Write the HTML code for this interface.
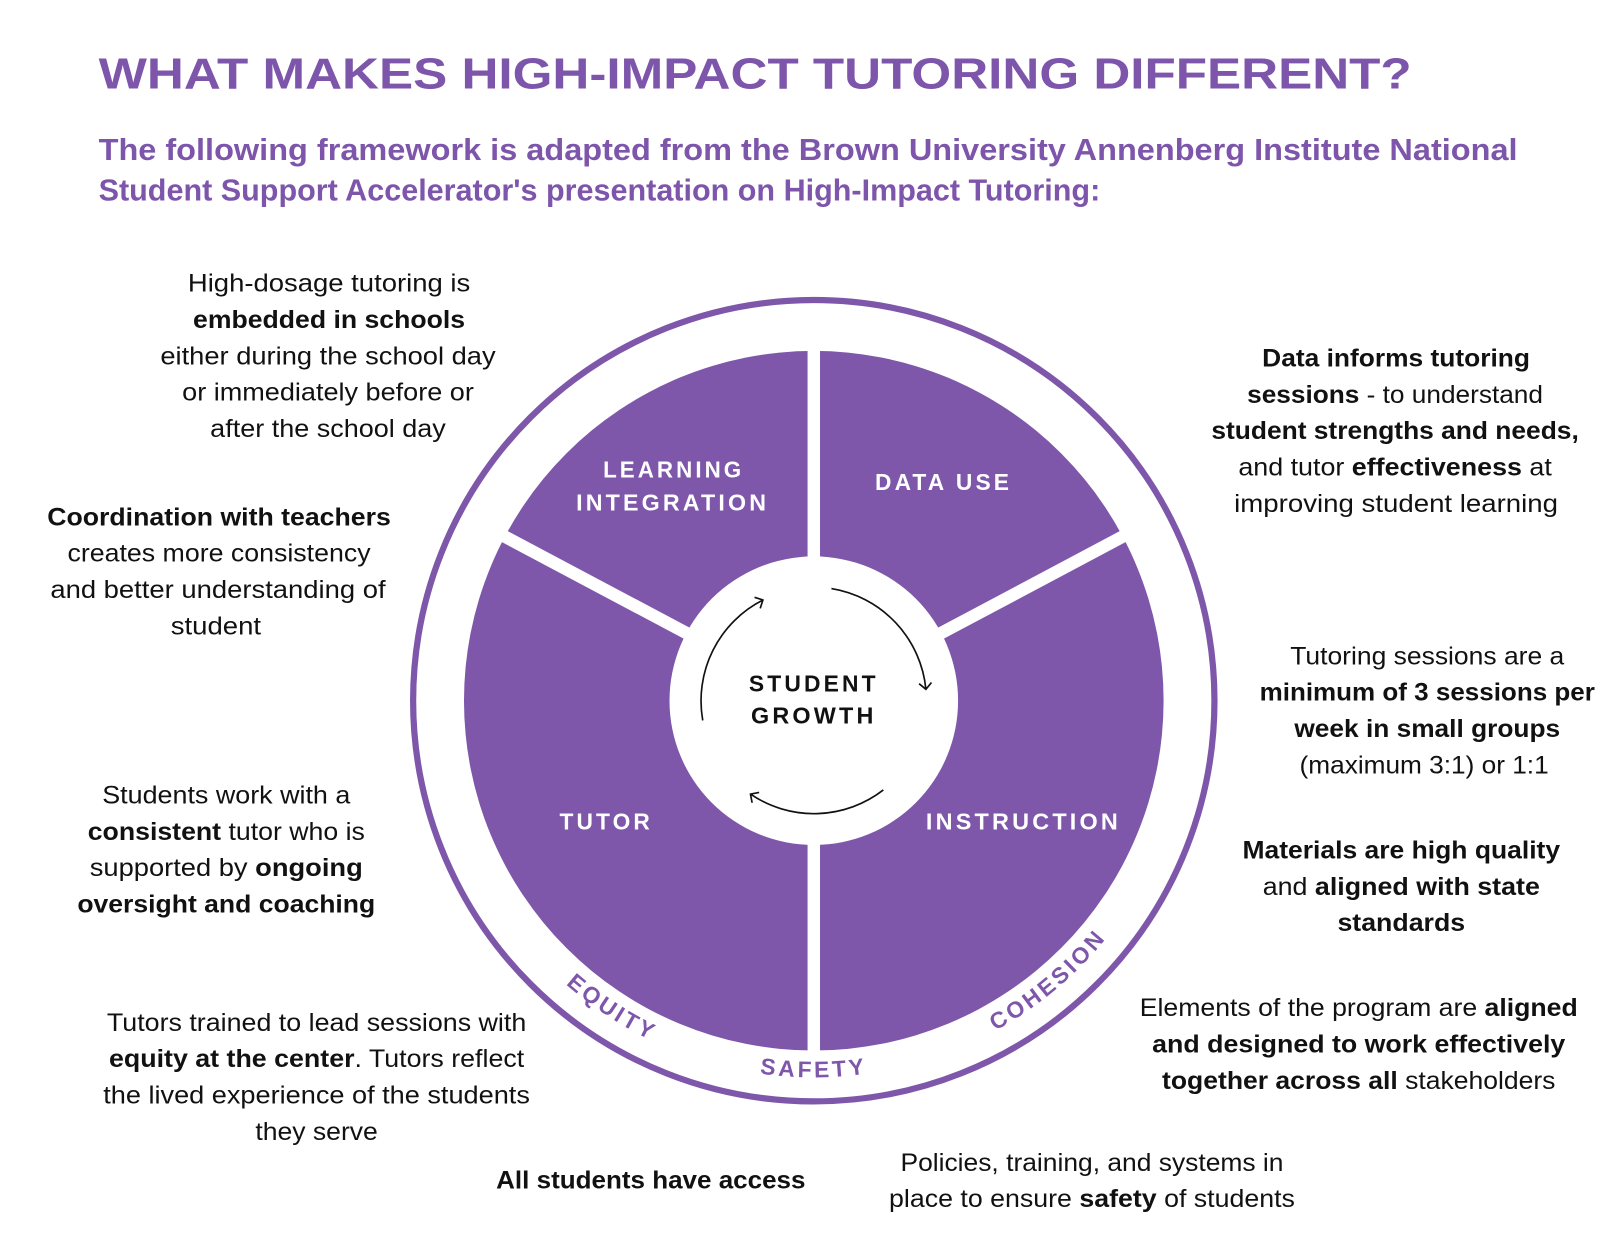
<!DOCTYPE html>
<html><head><meta charset="utf-8"><style>
html,body{margin:0;padding:0;background:#fff;}
svg{display:block;}
text{font-family:"Liberation Sans",sans-serif;}
.b{font-size:24.5px;fill:#111;text-anchor:middle;}
.bb{font-weight:700;}
.lab{font-size:22px;font-weight:700;fill:#fff;text-anchor:middle;letter-spacing:3px;}
.ring{font-size:22px;font-weight:700;fill:#7e57ab;letter-spacing:3px;}
</style></head><body>
<svg width="1620" height="1254" viewBox="0 0 1560.7 1208" xmlns="http://www.w3.org/2000/svg">
<defs>
<marker id="ah" markerWidth="14" markerHeight="14" refX="7" refY="7" orient="auto" markerUnits="userSpaceOnUse">
<path d="M1,1 L7,7 L1,13" fill="none" stroke="#111" stroke-width="1.6"/>
</marker>
<path id="rp" d="M 421 675 A 363 363 0 0 0 1147 675"/>
</defs>
<text x="95" y="85" font-size="42" font-weight="700" fill="#7d55ab" textLength="1265" lengthAdjust="spacingAndGlyphs">WHAT MAKES HIGH-IMPACT TUTORING DIFFERENT?</text>
<text x="95" y="154" font-size="29" font-weight="700" fill="#7d55ab" textLength="1367" lengthAdjust="spacingAndGlyphs">The following framework is adapted from the Brown University Annenberg Institute National</text>
<text x="95" y="193" font-size="29" font-weight="700" fill="#7d55ab" textLength="965" lengthAdjust="spacingAndGlyphs">Student Support Accelerator's presentation on High-Impact Tutoring:</text>

<!-- wheel -->
<circle cx="784" cy="675" r="386" fill="none" stroke="#7e57ab" stroke-width="6"/>
<circle cx="784" cy="675" r="337" fill="#7e57ab"/>
<g stroke="#fff" stroke-width="12">
<line x1="784" y1="675" x2="784" y2="325"/>
<line x1="784" y1="675" x2="784" y2="1025"/>
<line x1="784" y1="675" x2="479" y2="513"/>
<line x1="784" y1="675" x2="1089" y2="513"/>
</g>
<circle cx="784" cy="675" r="139" fill="#fff"/>
<g fill="none" stroke="#111" stroke-width="1.6">
<path d="M 801 567 A 109 109 0 0 1 892 664" marker-end="url(#ah)"/>
<path d="M 677 694 A 109 109 0 0 1 735 578" marker-end="url(#ah)"/>
<path d="M 851 761 A 109 109 0 0 1 723 765" marker-end="url(#ah)"/>
</g>
<text class="lab" x="649" y="460" textLength="136" lengthAdjust="spacingAndGlyphs">LEARNING</text>
<text class="lab" x="648" y="492" textLength="186" lengthAdjust="spacingAndGlyphs">INTEGRATION</text>
<text class="lab" x="909" y="472" textLength="132" lengthAdjust="spacingAndGlyphs">DATA USE</text>
<text class="lab" x="584" y="799" textLength="90" lengthAdjust="spacingAndGlyphs">TUTOR</text>
<text class="lab" x="986" y="799" textLength="188" lengthAdjust="spacingAndGlyphs">INSTRUCTION</text>
<text class="lab" x="784" y="666" style="fill:#111" textLength="125" lengthAdjust="spacingAndGlyphs">STUDENT</text>
<text class="lab" x="784" y="697" style="fill:#111" textLength="121" lengthAdjust="spacingAndGlyphs">GROWTH</text>
<text class="ring" text-anchor="middle"><textPath href="#rp" startOffset="31.5%">EQUITY</textPath></text>
<text class="ring" text-anchor="middle"><textPath href="#rp" startOffset="50%">SAFETY</textPath></text>
<text class="ring" text-anchor="middle"><textPath href="#rp" startOffset="72.2%">COHESION</textPath></text>

<!-- block A -->
<text class="b" x="317" y="281" textLength="272" lengthAdjust="spacingAndGlyphs">High-dosage tutoring is</text>
<text class="b bb" x="317" y="316" textLength="262" lengthAdjust="spacingAndGlyphs">embedded in schools</text>
<text class="b" x="316" y="351" textLength="323" lengthAdjust="spacingAndGlyphs">either during the school day</text>
<text class="b" x="316" y="386" textLength="281" lengthAdjust="spacingAndGlyphs">or immediately before or</text>
<text class="b" x="316" y="421" textLength="227" lengthAdjust="spacingAndGlyphs">after the school day</text>
<!-- block B -->
<text class="b bb" x="211" y="506" textLength="331" lengthAdjust="spacingAndGlyphs">Coordination with teachers</text>
<text class="b" x="211" y="541" textLength="292" lengthAdjust="spacingAndGlyphs">creates more consistency</text>
<text class="b" x="210" y="576" textLength="323" lengthAdjust="spacingAndGlyphs">and better understanding of</text>
<text class="b" x="208" y="611" textLength="87" lengthAdjust="spacingAndGlyphs">student</text>
<!-- block C -->
<text class="b" x="218" y="774" textLength="239" lengthAdjust="spacingAndGlyphs">Students work with a</text>
<text class="b" x="218" y="809" textLength="267" lengthAdjust="spacingAndGlyphs"><tspan class="bb">consistent</tspan> tutor who is</text>
<text class="b" x="218" y="844" textLength="263" lengthAdjust="spacingAndGlyphs">supported by <tspan class="bb">ongoing</tspan></text>
<text class="b bb" x="218" y="879" textLength="287" lengthAdjust="spacingAndGlyphs">oversight and coaching</text>
<!-- block D -->
<text class="b" x="305" y="993" textLength="404" lengthAdjust="spacingAndGlyphs">Tutors trained to lead sessions with</text>
<text class="b" x="305" y="1028" textLength="400" lengthAdjust="spacingAndGlyphs"><tspan class="bb">equity at the center</tspan>. Tutors reflect</text>
<text class="b" x="305" y="1063" textLength="411" lengthAdjust="spacingAndGlyphs">the lived experience of the students</text>
<text class="b" x="305" y="1098" textLength="118" lengthAdjust="spacingAndGlyphs">they serve</text>
<text class="b bb" x="627" y="1145" textLength="298" lengthAdjust="spacingAndGlyphs">All students have access</text>
<!-- block E -->
<text class="b" x="1052" y="1128" textLength="369" lengthAdjust="spacingAndGlyphs">Policies, training, and systems in</text>
<text class="b" x="1052" y="1163" textLength="391" lengthAdjust="spacingAndGlyphs">place to ensure <tspan class="bb">safety</tspan> of students</text>
<!-- block F -->
<text class="b" x="1309" y="979" textLength="422" lengthAdjust="spacingAndGlyphs">Elements of the program are <tspan class="bb">aligned</tspan></text>
<text class="b bb" x="1309" y="1014" textLength="398" lengthAdjust="spacingAndGlyphs">and designed to work effectively</text>
<text class="b" x="1309" y="1049" textLength="379" lengthAdjust="spacingAndGlyphs"><tspan class="bb">together across all</tspan> stakeholders</text>
<!-- block G -->
<text class="b bb" x="1345" y="353" textLength="258" lengthAdjust="spacingAndGlyphs">Data informs tutoring</text>
<text class="b" x="1344" y="388" textLength="285" lengthAdjust="spacingAndGlyphs"><tspan class="bb">sessions</tspan> - to understand</text>
<text class="b bb" x="1344" y="423" textLength="354" lengthAdjust="spacingAndGlyphs">student strengths and needs,</text>
<text class="b" x="1344" y="458" textLength="302" lengthAdjust="spacingAndGlyphs">and tutor <tspan class="bb">effectiveness</tspan> at</text>
<text class="b" x="1345" y="493" textLength="312" lengthAdjust="spacingAndGlyphs">improving student learning</text>
<!-- block H -->
<text class="b" x="1375" y="640" textLength="264" lengthAdjust="spacingAndGlyphs">Tutoring sessions are a</text>
<text class="b bb" x="1375" y="675" textLength="323" lengthAdjust="spacingAndGlyphs">minimum of 3 sessions per</text>
<text class="b bb" x="1375" y="710" textLength="256" lengthAdjust="spacingAndGlyphs">week in small groups</text>
<text class="b" x="1372" y="745" textLength="240" lengthAdjust="spacingAndGlyphs">(maximum 3:1) or 1:1</text>
<!-- block I -->
<text class="b bb" x="1350" y="827" textLength="306" lengthAdjust="spacingAndGlyphs">Materials are high quality</text>
<text class="b" x="1350" y="862" textLength="267" lengthAdjust="spacingAndGlyphs">and <tspan class="bb">aligned with state</tspan></text>
<text class="b bb" x="1350" y="897" textLength="123" lengthAdjust="spacingAndGlyphs">standards</text>
</svg>
</body></html>
